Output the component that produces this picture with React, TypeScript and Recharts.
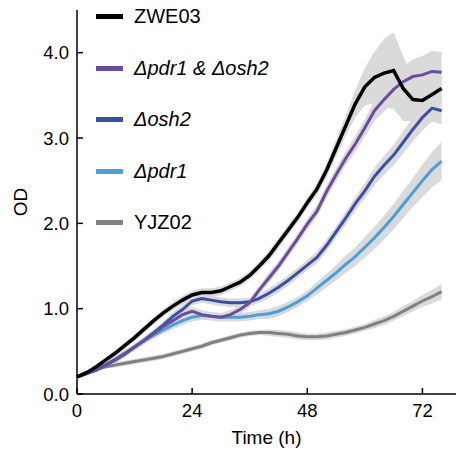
import React from "react";
import { ComposedChart, Line, Area, XAxis, YAxis, Legend } from "recharts";

const hours = [0, 2, 4, 6, 8, 10, 12, 14, 16, 18, 20, 22, 24, 26, 28, 30, 32, 34, 36, 38, 40, 42, 44, 46, 48, 50, 52, 54, 56, 58, 60, 62, 64, 66, 68, 70, 72, 74, 76];

// OD readings (mean) per strain
const zwe03 = [0.20, 0.25, 0.32, 0.40, 0.48, 0.57, 0.66, 0.76, 0.86, 0.95, 1.03, 1.10, 1.16, 1.19, 1.19, 1.21, 1.26, 1.31, 1.39, 1.50, 1.62, 1.77, 1.92, 2.07, 2.24, 2.40, 2.62, 2.88, 3.14, 3.40, 3.60, 3.71, 3.76, 3.79, 3.58, 3.45, 3.44, 3.51, 3.58];
const pdr1Osh2 = [0.20, 0.24, 0.28, 0.34, 0.40, 0.47, 0.55, 0.63, 0.71, 0.79, 0.86, 0.93, 0.97, 0.93, 0.91, 0.90, 0.93, 0.99, 1.07, 1.22, 1.36, 1.50, 1.66, 1.82, 1.99, 2.14, 2.37, 2.57, 2.76, 2.93, 3.12, 3.32, 3.45, 3.57, 3.66, 3.72, 3.74, 3.78, 3.77];
const osh2 = [0.20, 0.24, 0.28, 0.34, 0.40, 0.47, 0.55, 0.63, 0.72, 0.81, 0.91, 0.99, 1.09, 1.12, 1.10, 1.08, 1.07, 1.07, 1.08, 1.12, 1.18, 1.25, 1.33, 1.42, 1.51, 1.60, 1.74, 1.90, 2.06, 2.23, 2.38, 2.55, 2.68, 2.80, 2.95, 3.10, 3.24, 3.35, 3.32];
const pdr1 = [0.20, 0.24, 0.29, 0.35, 0.41, 0.48, 0.55, 0.62, 0.69, 0.75, 0.81, 0.86, 0.90, 0.92, 0.91, 0.90, 0.90, 0.90, 0.91, 0.93, 0.94, 0.97, 1.02, 1.08, 1.15, 1.24, 1.33, 1.42, 1.52, 1.61, 1.72, 1.83, 1.95, 2.08, 2.22, 2.36, 2.50, 2.63, 2.73];
const yjz02 = [0.20, 0.25, 0.29, 0.32, 0.34, 0.36, 0.38, 0.40, 0.42, 0.44, 0.47, 0.50, 0.53, 0.56, 0.60, 0.63, 0.66, 0.69, 0.71, 0.72, 0.72, 0.71, 0.70, 0.68, 0.67, 0.67, 0.68, 0.70, 0.72, 0.75, 0.78, 0.82, 0.86, 0.91, 0.97, 1.03, 1.09, 1.14, 1.20];

// spread (half width of the grey band)
const zwe03Err = [0.02, 0.02, 0.02, 0.02, 0.04, 0.04, 0.04, 0.04, 0.04, 0.04, 0.05, 0.05, 0.05, 0.05, 0.05, 0.05, 0.05, 0.05, 0.05, 0.05, 0.06, 0.06, 0.06, 0.06, 0.06, 0.07, 0.08, 0.10, 0.12, 0.16, 0.22, 0.30, 0.40, 0.45, 0.38, 0.25, 0.18, 0.15, 0.15];
const pdr1Osh2Err = [0.02, 0.02, 0.02, 0.02, 0.04, 0.04, 0.04, 0.04, 0.04, 0.04, 0.05, 0.05, 0.05, 0.05, 0.05, 0.05, 0.05, 0.05, 0.05, 0.05, 0.06, 0.06, 0.06, 0.06, 0.06, 0.07, 0.07, 0.08, 0.08, 0.09, 0.10, 0.12, 0.14, 0.16, 0.18, 0.20, 0.22, 0.24, 0.24];
const osh2Err = [0.02, 0.02, 0.02, 0.02, 0.04, 0.04, 0.04, 0.04, 0.04, 0.04, 0.05, 0.05, 0.05, 0.05, 0.05, 0.05, 0.05, 0.05, 0.05, 0.05, 0.06, 0.06, 0.06, 0.06, 0.06, 0.07, 0.07, 0.07, 0.08, 0.08, 0.09, 0.10, 0.11, 0.12, 0.13, 0.14, 0.15, 0.16, 0.16];
const pdr1Err = [0.02, 0.02, 0.02, 0.02, 0.04, 0.04, 0.04, 0.04, 0.04, 0.04, 0.05, 0.05, 0.05, 0.05, 0.05, 0.05, 0.05, 0.05, 0.05, 0.05, 0.06, 0.06, 0.06, 0.06, 0.06, 0.07, 0.08, 0.09, 0.10, 0.11, 0.12, 0.13, 0.14, 0.15, 0.16, 0.17, 0.19, 0.21, 0.22];
const yjz02Err = [0.02, 0.02, 0.02, 0.02, 0.03, 0.03, 0.03, 0.03, 0.03, 0.03, 0.03, 0.03, 0.03, 0.03, 0.03, 0.03, 0.03, 0.03, 0.03, 0.03, 0.04, 0.04, 0.04, 0.04, 0.04, 0.04, 0.04, 0.04, 0.04, 0.04, 0.04, 0.05, 0.05, 0.05, 0.06, 0.06, 0.07, 0.08, 0.09];

const xTicks = [0, 24, 48, 72];
const yTicks = [0, 1, 2, 3, 4];

// legend order, top to bottom
const series = [
  { key: "zwe03", name: "ZWE03", italic: false, color: "#000000", width: 3.5, values: zwe03, err: zwe03Err },
  { key: "pdr1Osh2", name: "Δpdr1 & Δosh2", italic: true, color: "#6a4c9f", width: 3, values: pdr1Osh2, err: pdr1Osh2Err },
  { key: "osh2", name: "Δosh2", italic: true, color: "#3b4fa3", width: 3, values: osh2, err: osh2Err },
  { key: "pdr1", name: "Δpdr1", italic: true, color: "#4c9ed9", width: 3, values: pdr1, err: pdr1Err },
  { key: "yjz02", name: "YJZ02", italic: false, color: "#808080", width: 3, values: yjz02, err: yjz02Err },
];

const rows = hours.map((t, i) => {
  const row: Record<string, any> = { t };
  series.forEach((s) => {
    row[s.key] = s.values[i];
    row[s.key + "Band"] = [s.values[i] - s.err[i], s.values[i] + s.err[i]];
  });
  return row;
});

const font = "'Liberation Sans', Arial, sans-serif";
const band = "#dadada";

function LegendBox() {
  return (
    <div style={{ fontFamily: font, fontSize: 20, color: "#000" }}>
      {series.map((s) => (
        <div key={s.key} style={{ display: "flex", alignItems: "center", height: 51.5 }}>
          <span style={{ display: "inline-block", width: 27, height: 5, background: s.color, marginRight: 11 }} />
          <span style={{ fontStyle: s.italic ? "italic" : "normal" }}>{s.name}</span>
        </div>
      ))}
    </div>
  );
}

function OdLabel(props: any) {
  const vb = props.viewBox;
  const cy = vb.y + vb.height / 2;
  return (
    <text x={27} y={cy} transform={`rotate(-90, 27, ${cy})`} textAnchor="middle" fontSize={19} fontFamily={font} fill="#000">
      OD
    </text>
  );
}

function TimeLabel(props: any) {
  const vb = props.viewBox;
  const cx = vb.x + vb.width / 2;
  return (
    <text x={cx} y={444} textAnchor="middle" fontSize={19} fontFamily={font} fill="#000">
      Time (h)
    </text>
  );
}

export default function App() {
  const axisStyle = { stroke: "#000", strokeWidth: 1.5 };
  const tickStyle = { fill: "#000", fontSize: 18.5, fontFamily: font };
  const drawOrder = [...series].reverse();

  return (
    <div style={{ position: "absolute", left: 0, top: 0, width: 456, height: 450, background: "#fff" }}>
      <ComposedChart width={456} height={450} data={rows} margin={{ top: 10, right: 0, bottom: 0, left: 0 }}>
        <XAxis
          dataKey="t"
          type="number"
          domain={[0, 79]}
          ticks={xTicks}
          interval={0}
          height={56}
          tickSize={-6}
          tickMargin={16}
          axisLine={axisStyle}
          tickLine={axisStyle}
          tick={tickStyle}
          label={{ content: TimeLabel }}
        />
        <YAxis
          type="number"
          domain={[0, 4.5]}
          ticks={yTicks}
          interval={0}
          width={77}
          tickSize={-6}
          tickMargin={14}
          tickFormatter={(v: number) => v.toFixed(1)}
          axisLine={axisStyle}
          tickLine={axisStyle}
          tick={tickStyle}
          label={{ content: OdLabel }}
        />
        {drawOrder.map((s) => (
          <Area
            key={s.key + "Band"}
            type="linear"
            dataKey={s.key + "Band"}
            stroke="none"
            fill={band}
            fillOpacity={1}
            isAnimationActive={false}
            legendType="none"
          />
        ))}
        {drawOrder.map((s) => (
          <Line
            key={s.key}
            type="linear"
            dataKey={s.key}
            name={s.name}
            stroke={s.color}
            strokeWidth={s.width}
            dot={false}
            isAnimationActive={false}
          />
        ))}
        <Legend
          layout="vertical"
          align="center"
          verticalAlign="middle"
          content={LegendBox}
          wrapperStyle={{ top: -9, left: 96, width: 300 }}
        />
      </ComposedChart>
    </div>
  );
}
